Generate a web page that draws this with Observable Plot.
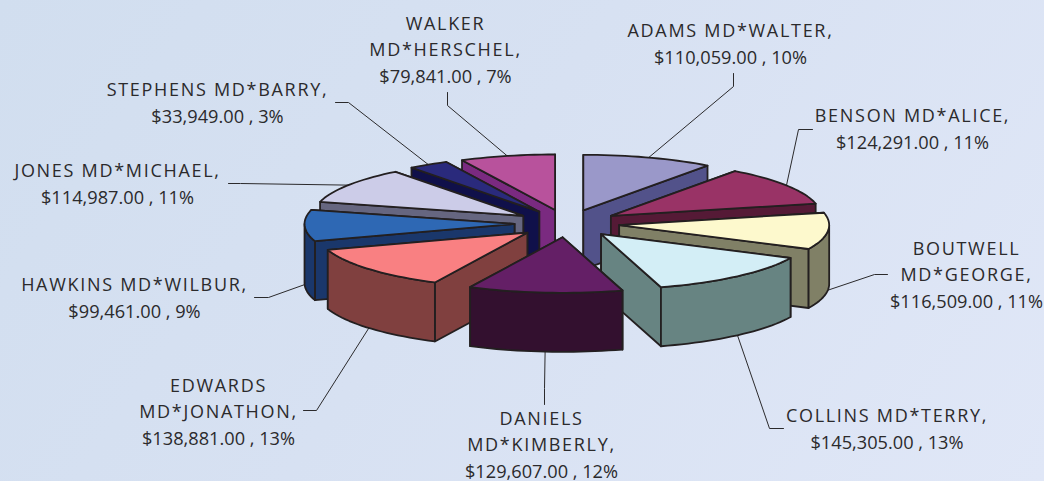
<!DOCTYPE html>
<html>
<head>
<meta charset="utf-8">
<script src="https://cdn.jsdelivr.net/npm/d3@7"></script>
<script src="https://cdn.jsdelivr.net/npm/@observablehq/plot@0.6"></script>
<style>
html,body{margin:0;padding:0;width:1044px;height:481px;overflow:hidden;
background:linear-gradient(125deg,#d1deef 0%,#d7e1f2 45%,#e0e7f7 100%);}
svg{display:block}
</style>
</head>
<body>
<div id="chart"></div>
<script>
const names = [
  "ADAMS MD*WALTER,", "BENSON MD*ALICE,", "BOUTWELL\nMD*GEORGE,", "COLLINS MD*TERRY,",
  "DANIELS\nMD*KIMBERLY,", "EDWARDS\nMD*JONATHON,", "HAWKINS MD*WILBUR,",
  "JONES MD*MICHAEL,", "STEPHENS MD*BARRY,", "WALKER\nMD*HERSCHEL,"
];
const values = [110059, 124291, 116509, 145305, 129607, 138881, 99461, 114987, 33949, 79841];
const topColors  = ["#9a98c9","#993366","#fdf9cd","#d3eef6","#641f66","#f98082","#2e68b4","#cccce8","#2a2a7c","#b8529c"];
const wallColors = ["#52528a","#551a36","#808066","#678482","#33102f","#80403f","#1a376b","#666680","#10104a","#7a2a80"];

// layout (not data)
const C = {x: 566.5, y: 223}, RX = 210, RY = 55.5, DEPTH = 59, EXPLODE = 0.25;
const labelX = [730, 912, 966, 886.5, 541, 218, 134, 117, 217, 445];
const labelY = [31, 116, 249, 416, 419, 386, 285, 171, 90, 24];
const LINE = 26.2;
// leader routes: from the slice's outer edge to an elbow, then to the label
const elbowX = [733, 798, 874, 769, 544, 316, 268, 240, 348, 447];
const elbowY = [86, 129, 274, 428, 388, 410, 297, 183, 102, 105];
const tailX  = [733, 812, 887, 783, 544, 303, 254, 228, 335, 447];
const tailY  = [73, 129, 274, 428, 404, 410, 297, 183, 102, 92];

const total = d3.sum(values);
const rad = d => d * Math.PI / 180;
let cum = 0;
const slices = values.map((v, i) => {
  const a0 = cum / total * 360; cum += v;
  const a1 = cum / total * 360, mid = (a0 + a1) / 2;
  return {i, a0, a1, mid,
    ax: C.x + EXPLODE * RX * Math.sin(rad(mid)),
    ay: C.y - EXPLODE * RY * Math.cos(rad(mid))};
});
const rim = (s, a, dz = 0) => [s.ax + RX * Math.sin(rad(a)), s.ay - RY * Math.cos(rad(a)) + dz];
const arc = (s, a0, a1, dz = 0) => {
  const n = Math.max(2, Math.ceil((a1 - a0) / 2));
  return d3.range(n + 1).map(k => rim(s, a0 + (a1 - a0) * k / n, dz));
};
const radialWall = (s, a) => [[s.ax, s.ay], rim(s, a), rim(s, a, DEPTH), [s.ax, s.ay + DEPTH]];

const poly = (pts, fill) => Plot.line([...pts, pts[0]], {
  x: d => d[0], y: d => d[1], fill, stroke: "#231f20", strokeWidth: 1.8,
  strokeLinejoin: "round", curve: "linear"
});

function sliceMarks(s) {
  const wall = wallColors[s.i], out = [];
  const startVisible = Math.sin(rad(s.a0)) < 0;
  const endVisible = Math.sin(rad(s.a1)) > 0;
  const walls = [{a: s.a0, vis: startVisible}, {a: s.a1, vis: endVisible}]
    .sort((p, q) => p.vis - q.vis);
  for (const w of walls) out.push(poly(radialWall(s, w.a), wall));
  const f0 = Math.max(s.a0, 90), f1 = Math.min(s.a1, 270);
  if (f1 > f0) out.push(poly([...arc(s, f0, f1), ...arc(s, f0, f1, DEPTH).reverse()], wall));
  out.push(poly([[s.ax, s.ay], ...arc(s, s.a0, s.a1)], topColors[s.i]));
  return out;
}

// back-to-front painting order
const paintOrder = [0, 9, 8, 7, 1, 6, 2, 5, 3, 4];

// leaders start on the middle of each slice's rim (bottom of wall for front-facing rims)
const leaders = slices.map(s => {
  const front = Math.cos(rad(s.mid)) < 0;
  const p = rim(s, s.mid, front ? DEPTH : 0);
  return [p, [elbowX[s.i], elbowY[s.i]], [tailX[s.i], tailY[s.i]]];
});

// one row per text line
const nameLines = [], valueLines = [];
slices.forEach(s => {
  const parts = names[s.i].split("\n");
  parts.forEach((t, k) => nameLines.push({t, x: labelX[s.i], y: labelY[s.i] + k * LINE}));
  const pct = Math.round(values[s.i] / total * 100);
  valueLines.push({
    t: `$${d3.format(",.2f")(values[s.i])} , ${pct}%`,
    x: labelX[s.i], y: labelY[s.i] + parts.length * LINE
  });
});

const textStyle = {x: "x", y: "y", text: "t", fontFamily: "'Open Sans'", fill: "#2b2a2c", textAnchor: "middle", lineAnchor: "middle"};

const chart = Plot.plot({
  width: 1044, height: 481,
  margin: 0, marginTop: 0, marginRight: 0, marginBottom: 0, marginLeft: 0,
  x: {domain: [0, 1044], range: [0, 1044], axis: null},
  y: {domain: [0, 481], range: [0, 481], axis: null},
  style: {background: "transparent", overflow: "visible"},
  marks: [
    ...leaders.map(l => Plot.line(l, {x: d => d[0], y: d => d[1], stroke: "#2b2a2c", strokeWidth: 1})),
    ...paintOrder.flatMap(i => sliceMarks(slices[i])),
    Plot.text(nameLines, {...textStyle, fontSize: 18, className: "names"}),
    Plot.text(valueLines, {...textStyle, fontSize: 18.2, className: "vals"})
  ]
});
d3.select(chart).selectAll(".names text").style("letter-spacing", "1.7px");
document.getElementById("chart").append(chart);
</script>
</body>
</html>
